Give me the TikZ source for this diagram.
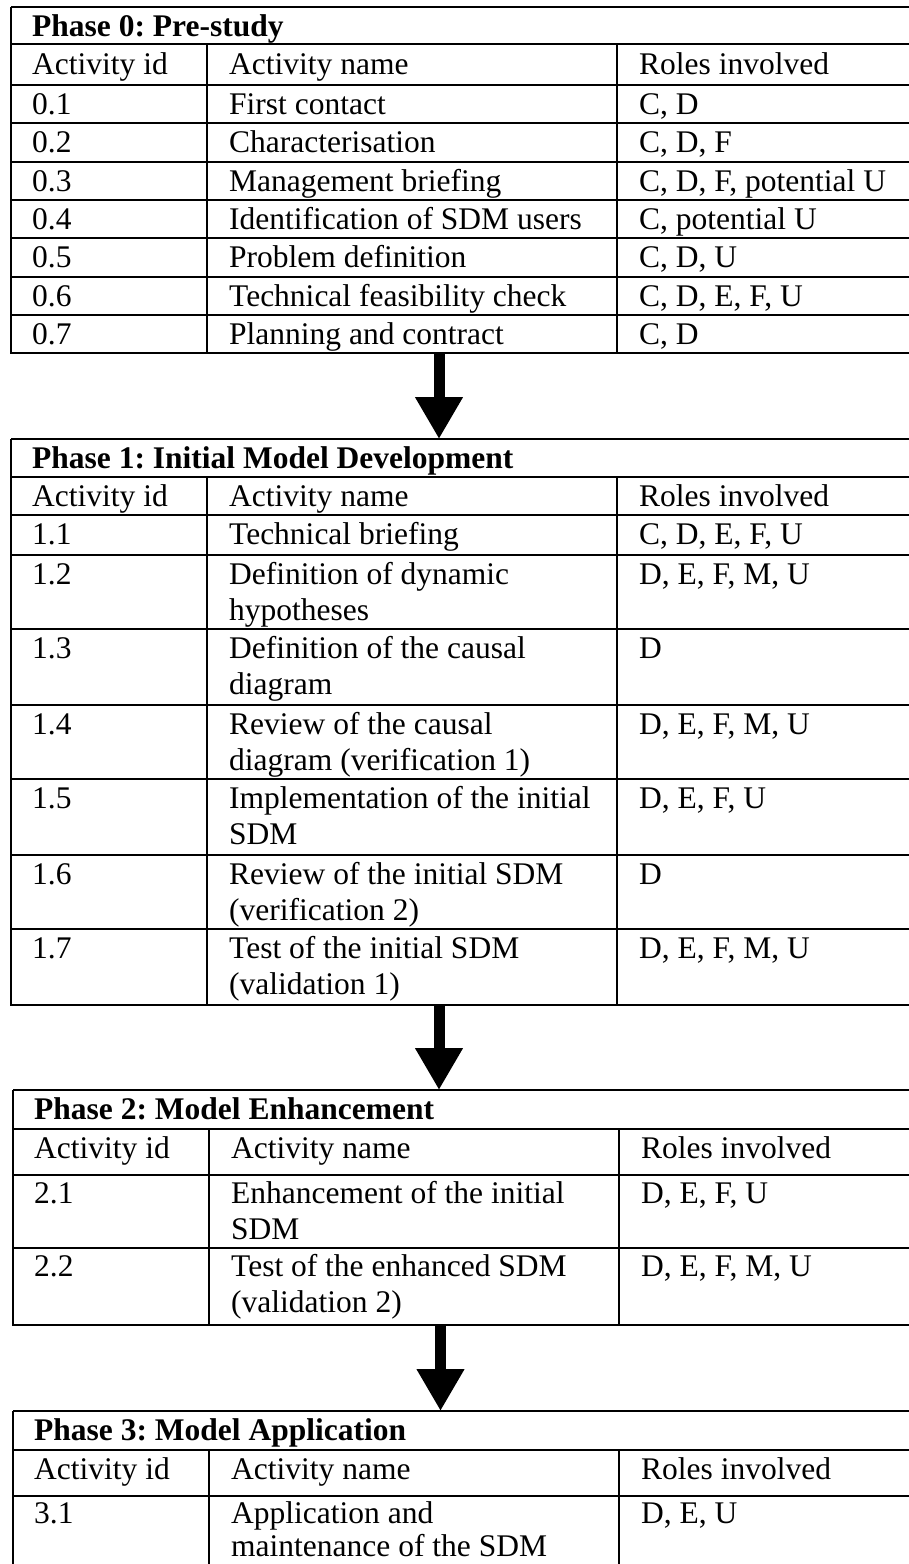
\documentclass[tikz,border=0pt]{standalone}
\usepackage{fontspec}
\setmainfont{Liberation Serif}
\usetikzlibrary{arrows.meta}
\frenchspacing
% a cell whose text runs over two lines; its baseline is that of the first line
\newcommand\twolines[2]{\begin{tabular}[t]{@{}l@{}}#1\\#2\end{tabular}}
\begin{document}
\begin{tikzpicture}[x=1pt,y=-1pt,
  rule/.style={line width=1.8pt},
  txt/.style={anchor=base west,inner sep=0pt,font=\fontsize{31.5}{36}\selectfont},
  headtxt/.style={txt,font=\fontsize{31.5}{36}\selectfont\bfseries},
  flow/.style={line width=11pt,-{Triangle[width=45pt,length=42pt]}}]
\useasboundingbox (0,0) rectangle (909,1564);
\clip (0,0) rectangle (909,1564);

% ---------------- Phase 0 ----------------
\foreach \y in {7,44,85,123,162,200,238,277,315,353}
  \draw[rule] (11,\y) -- (940,\y);
\draw[rule] (11,7) -- (11,354);
\draw[rule] (207,44) -- (207,354);
\draw[rule] (617,44) -- (617,354);
\node[headtxt] (p0) at (32,36) {Phase 0: Pre-study};
\node[txt] (p0id) at (32,74) {Activity id};
\node[txt] (p0name) at (229,74) {Activity name};
\node[txt] (p0roles) at (639,74) {Roles involved};
\foreach \t/\i/\n/\r [count=\k] in {
  {85/0.1/First contact/C, D},
  {123/0.2/Characterisation/C, D, F},
  {162/0.3/Management briefing/C, D, F, potential U},
  {200/0.4/Identification of SDM users/C, potential U},
  {238/0.5/Problem definition/C, D, U},
  {277/0.6/Technical feasibility check/C, D, E, F, U},
  {315/0.7/Planning and contract/C, D}}{
  \node[txt] (a0-\k-id) at (32,\t+29) {\i};
  \node[txt] (a0-\k-name) at (229,\t+29) {\n};
  \node[txt] (a0-\k-roles) at (639,\t+29) {\r};
}
\coordinate (t0bottom) at (439,353);
\coordinate (t1top) at (439,439);

% ---------------- Phase 1 ----------------
\foreach \y in {439,477,515,555,629,705,779,855,929,1005}
  \draw[rule] (11,\y) -- (940,\y);
\draw[rule] (11,439) -- (11,1006);
\draw[rule] (207,477) -- (207,1006);
\draw[rule] (617,477) -- (617,1006);
\node[headtxt] (p1) at (32,468) {Phase 1: Initial Model Development};
\node[txt] (p1id) at (32,506) {Activity id};
\node[txt] (p1name) at (229,506) {Activity name};
\node[txt] (p1roles) at (639,506) {Roles involved};
\foreach \t/\i/\n/\r [count=\k] in {
  {515/1.1/Technical briefing/C, D, E, F, U},
  {555/1.2/\twolines{Definition of dynamic}{hypotheses}/D, E, F, M, U},
  {629/1.3/\twolines{Definition of the causal}{diagram}/D},
  {705/1.4/\twolines{Review of the causal}{diagram (verification 1)}/D, E, F, M, U},
  {779/1.5/\twolines{Implementation of the initial}{SDM}/D, E, F, U},
  {855/1.6/\twolines{Review of the initial SDM}{(verification 2)}/D},
  {929/1.7/\twolines{Test of the initial SDM}{(validation 1)}/D, E, F, M, U}}{
  \node[txt] (a1-\k-id) at (32,\t+29) {\i};
  \node[txt] (a1-\k-name) at (229,\t+29) {\n};
  \node[txt] (a1-\k-roles) at (639,\t+29) {\r};
}
\coordinate (t1bottom) at (439,1005);
\coordinate (t2top) at (439,1090);

% ---------------- Phase 2 ----------------
\foreach \y in {1090,1129,1175,1248,1325}
  \draw[rule] (13,\y) -- (940,\y);
\draw[rule] (13,1090) -- (13,1326);
\draw[rule] (209,1129) -- (209,1326);
\draw[rule] (619,1129) -- (619,1326);
\node[headtxt] (p2) at (34,1119) {Phase 2: Model Enhancement};
\node[txt] (p2id) at (34,1158) {Activity id};
\node[txt] (p2name) at (231,1158) {Activity name};
\node[txt] (p2roles) at (641,1158) {Roles involved};
\foreach \t/\i/\n/\r [count=\k] in {
  {1175/2.1/\twolines{Enhancement of the initial}{SDM}/D, E, F, U},
  {1248/2.2/\twolines{Test of the enhanced SDM}{(validation 2)}/D, E, F, M, U}}{
  \node[txt] (a2-\k-id) at (34,\t+28) {\i};
  \node[txt] (a2-\k-name) at (231,\t+28) {\n};
  \node[txt] (a2-\k-roles) at (641,\t+28) {\r};
}
\coordinate (t2bottom) at (440.5,1325);
\coordinate (t3top) at (440.5,1411);

% ---------------- Phase 3 ----------------
\foreach \y in {1411,1450,1496}
  \draw[rule] (13,\y) -- (940,\y);
\draw[rule] (13,1411) -- (13,1600);
\draw[rule] (209,1450) -- (209,1600);
\draw[rule] (619,1450) -- (619,1600);
\node[headtxt] (p3) at (34,1440) {Phase 3: Model Application};
\node[txt] (p3id) at (34,1479) {Activity id};
\node[txt] (p3name) at (231,1479) {Activity name};
\node[txt] (p3roles) at (641,1479) {Roles involved};
\node[txt] (a3-1-id) at (34,1523) {3.1};
\node[txt] (a3-1-name) at (231,1523) {\fontsize{31.5}{33}\selectfont\twolines{Application and}{maintenance of the SDM}};
\node[txt] (a3-1-roles) at (641,1523) {D, E, U};

% ---------------- arrows between phases ----------------
\draw[flow] (t0bottom) -- (t1top);
\draw[flow] (t1bottom) -- (t2top);
\draw[flow] (t2bottom) -- (t3top);
\end{tikzpicture}
\end{document}
